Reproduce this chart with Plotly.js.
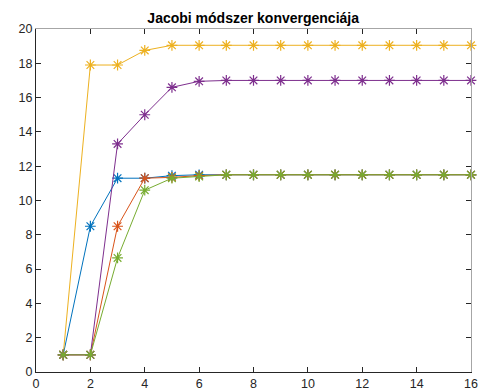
<!DOCTYPE html>
<html><head><meta charset="utf-8">
<script src="https://cdn.plot.ly/plotly-3.0.1.min.js"></script>
<style>html,body{margin:0;padding:0;background:#fff}</style>
</head><body><div id="chart" style="width:485px;height:392px"></div>
<script>
const iterations = [1,2,3,4,5,6,7,8,9,10,11,12,13,14,15,16];
const x1 = [1, 8.5, 11.3, 11.3, 11.45, 11.5, 11.5, 11.5, 11.5, 11.5, 11.5, 11.5, 11.5, 11.5, 11.5, 11.5];
const x2 = [1, 1, 8.5, 11.3, 11.35, 11.45, 11.5, 11.5, 11.5, 11.5, 11.5, 11.5, 11.5, 11.5, 11.5, 11.5];
const x3 = [1, 17.9, 17.9, 18.75, 19.05, 19.05, 19.05, 19.05, 19.05, 19.05, 19.05, 19.05, 19.05, 19.05, 19.05, 19.05];
const x4 = [1, 1, 13.3, 15.0, 16.6, 16.95, 17.0, 17.0, 17.0, 17.0, 17.0, 17.0, 17.0, 17.0, 17.0, 17.0];
const x5 = [1, 1, 6.65, 10.6, 11.3, 11.4, 11.5, 11.5, 11.5, 11.5, 11.5, 11.5, 11.5, 11.5, 11.5, 11.5];
const series = [x1, x2, x3, x4, x5];
const colors = ['#0072BD', '#D95319', '#EDB120', '#7E2F8E', '#77AC30'];
const xTicks = [0,2,4,6,8,10,12,14,16];
const yTicks = [0,2,4,6,8,10,12,14,16,18,20];

const traces = series.map((s, i) => ({
  x: iterations, y: s, type: 'scatter', mode: 'lines+markers',
  line: {color: colors[i], width: 1},
  marker: {symbol: 'asterisk-open', size: 9, color: colors[i], line: {color: colors[i], width: 1.2}},
  showlegend: false, cliponaxis: false
}));
traces.push({x: [0], y: [0], xaxis: 'x2', yaxis: 'y2', mode: 'markers', marker: {opacity: 0}, showlegend: false, hoverinfo: 'skip'});

const dark = '#262626';
const layout = {
  width: 485, height: 392,
  margin: {l: 36, r: 14, t: 29, b: 20},
  paper_bgcolor: '#fff', plot_bgcolor: '#fff',
  font: {family: 'Liberation Sans, Arial, sans-serif', size: 12.5, color: dark},
  title: {text: '<b>Jacobi módszer konvergenciája</b>', font: {size: 14, color: '#000'}, x: 0.522, xanchor: 'center', y: 0.955, yanchor: 'middle'},
  xaxis: {range: [0, 16], tickvals: xTicks, ticks: 'inside', ticklen: 5, tickcolor: dark, showline: true, linecolor: dark, linewidth: 1, showgrid: false, zeroline: false, tickfont: {size: 12.5, color: dark}},
  yaxis: {range: [0, 20], tickvals: yTicks, ticks: 'inside', ticklen: 5, tickcolor: dark, showline: true, linecolor: dark, linewidth: 1, showgrid: false, zeroline: false, tickfont: {size: 12.5, color: dark}},
  xaxis2: {range: [0, 16], tickvals: xTicks, overlaying: 'x', side: 'top', anchor: 'y2', ticks: 'inside', ticklen: 5, tickcolor: dark, showline: true, linecolor: '#a6a6a6', linewidth: 1, showgrid: false, zeroline: false, showticklabels: false},
  yaxis2: {range: [0, 20], tickvals: yTicks, overlaying: 'y', side: 'right', anchor: 'x2', ticks: 'inside', ticklen: 5, tickcolor: dark, showline: true, linecolor: '#a6a6a6', linewidth: 1, showgrid: false, zeroline: false, showticklabels: false}
};
Plotly.newPlot('chart', traces, layout, {staticPlot: true});
</script></body></html>
